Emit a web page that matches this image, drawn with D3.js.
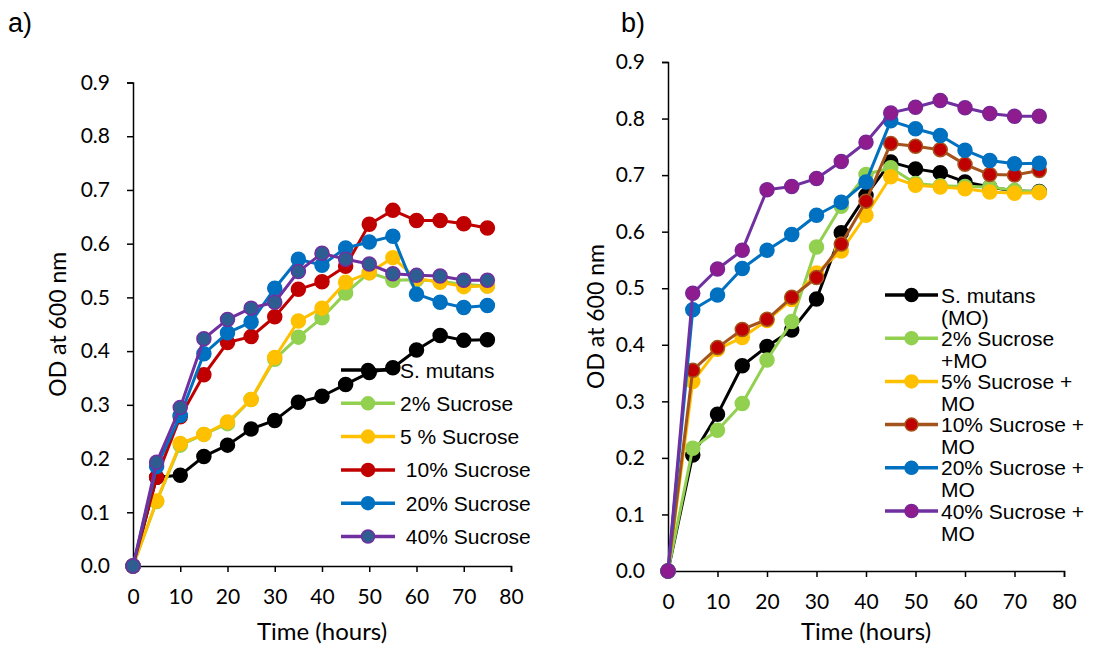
<!DOCTYPE html>
<html>
<head>
<meta charset="utf-8">
<script src="https://cdn.jsdelivr.net/npm/d3@7/dist/d3.min.js"></script>
<style>
  html, body { margin: 0; padding: 0; background: #ffffff; }
  svg { display: block; }
</style>
</head>
<body>
<svg id="chart" width="1097" height="646"></svg>
<script>
// ---------- DATA ----------
const timeHours = [0, 5, 10, 15, 20, 25, 30, 35, 40, 45, 50, 55, 60, 65, 70, 75];
const xTicks = [0, 10, 20, 30, 40, 50, 60, 70, 80];
const yTicks = [0, 0.1, 0.2, 0.3, 0.4, 0.5, 0.6, 0.7, 0.8, 0.9];

// Panel a
const aLabels = ["S. mutans", "2% Sucrose", "5 % Sucrose", " 10% Sucrose", " 20% Sucrose", " 40% Sucrose"];
const aMutans = [0, 0.165, 0.169, 0.204, 0.225, 0.255, 0.271, 0.305, 0.316, 0.338, 0.360, 0.369, 0.402, 0.429, 0.420, 0.421];
const aSuc2   = [0, 0.120, 0.225, 0.245, 0.265, 0.310, 0.385, 0.426, 0.462, 0.508, 0.546, 0.532, 0.533, 0.530, 0.524, 0.521];
const aSuc5   = [0, 0.121, 0.228, 0.245, 0.268, 0.310, 0.388, 0.456, 0.480, 0.528, 0.546, 0.574, 0.535, 0.528, 0.520, 0.521];
const aSuc10  = [0, 0.165, 0.278, 0.356, 0.416, 0.427, 0.464, 0.515, 0.529, 0.558, 0.636, 0.662, 0.643, 0.643, 0.637, 0.629];
const aSuc20  = [0, 0.185, 0.280, 0.395, 0.434, 0.454, 0.517, 0.571, 0.560, 0.592, 0.603, 0.614, 0.506, 0.491, 0.481, 0.485];
const aSuc40  = [0, 0.193, 0.295, 0.423, 0.459, 0.480, 0.491, 0.548, 0.582, 0.571, 0.562, 0.544, 0.541, 0.540, 0.532, 0.532];

// Panel b
const bLabels = [["S. mutans", "(MO)"], ["2% Sucrose", "+MO"], ["5% Sucrose +", "MO"], ["10% Sucrose +", "MO"], ["20% Sucrose +", "MO"], ["40% Sucrose +", "MO"]];
const bMutans = [0, 0.205, 0.277, 0.363, 0.397, 0.426, 0.481, 0.598, 0.664, 0.723, 0.711, 0.704, 0.688, 0.679, 0.672, 0.671];
const bSuc2   = [0, 0.217, 0.249, 0.296, 0.373, 0.441, 0.573, 0.645, 0.701, 0.713, 0.685, 0.681, 0.680, 0.679, 0.673, 0.670];
const bSuc5   = [0, 0.335, 0.392, 0.413, 0.443, 0.480, 0.527, 0.566, 0.629, 0.697, 0.682, 0.679, 0.676, 0.670, 0.668, 0.669];
const bSuc10  = [0, 0.355, 0.395, 0.427, 0.445, 0.484, 0.519, 0.578, 0.654, 0.756, 0.751, 0.745, 0.719, 0.701, 0.700, 0.708];
const bSuc20  = [0, 0.462, 0.488, 0.535, 0.567, 0.595, 0.629, 0.652, 0.688, 0.796, 0.782, 0.770, 0.744, 0.726, 0.720, 0.721];
const bSuc40  = [0, 0.491, 0.534, 0.567, 0.674, 0.680, 0.694, 0.724, 0.758, 0.810, 0.820, 0.832, 0.819, 0.809, 0.804, 0.804];

// ---------- STYLE ----------
const aStyles = [
  { line: "#000000", fill: "#000000", stroke: "#000000" },
  { line: "#92D050", fill: "#92D050", stroke: "#92D050" },
  { line: "#FFC000", fill: "#FFC000", stroke: "#FFC000" },
  { line: "#C00000", fill: "#C00000", stroke: "#C00000" },
  { line: "#0070C0", fill: "#0070C0", stroke: "#0070C0" },
  { line: "#7030A0", fill: "#2E5E91", stroke: "#7030A0" }
];
const bStyles = [
  { line: "#000000", fill: "#000000", stroke: "#000000" },
  { line: "#92D050", fill: "#92D050", stroke: "#92D050" },
  { line: "#FFC000", fill: "#FFC000", stroke: "#FFC000" },
  { line: "#A5531C", fill: "#C00000", stroke: "#A5531C" },
  { line: "#0070C0", fill: "#0070C0", stroke: "#0070C0" },
  { line: "#7030A0", fill: "#8E1C8E", stroke: "#7A2595" }
];

const tickFont = "Lato, 'Open Sans', sans-serif";
const legendFont = "'Liberation Sans', Arial, sans-serif";

const svg = d3.select("#chart");

function drawPanel(cfg) {
  const x = d3.scaleLinear().domain([0, 80]).range([cfg.x0, cfg.x1]);
  const y = d3.scaleLinear().domain([0, 0.9]).range([cfg.y0, cfg.y1]);
  const g = svg.append("g");

  // panel letter
  g.append("text").attr("x", cfg.letterX).attr("y", 32)
    .attr("font-family", legendFont).attr("font-size", 27).attr("fill", "#000")
    .text(cfg.letter);

  // y axis
  const yAxis = g.append("g").attr("transform", `translate(${cfg.x0},0)`)
    .call(d3.axisLeft(y).tickValues(yTicks).tickFormat(d3.format(".1f")).tickSizeOuter(0).tickSize(6).tickPadding(17));
  yAxis.select(".domain").attr("stroke", "#000").attr("stroke-width", 1.5);
  yAxis.selectAll(".tick line").attr("stroke", "#000").attr("stroke-width", 1.5);
  yAxis.selectAll(".tick text").attr("font-family", tickFont).attr("font-size", 21).attr("fill", "#000");

  // x axis
  const xAxis = g.append("g").attr("transform", `translate(0,${cfg.y0})`)
    .call(d3.axisBottom(x).tickValues(xTicks).tickFormat(d3.format("d")).tickSizeOuter(0).tickSize(6).tickPadding(17));
  xAxis.select(".domain").attr("stroke", "#000").attr("stroke-width", 1.5);
  xAxis.selectAll(".tick line").attr("stroke", "#000").attr("stroke-width", 1.5);
  xAxis.selectAll(".tick text").attr("font-family", tickFont).attr("font-size", 21).attr("fill", "#000");

  // axis titles
  g.append("text")
    .attr("transform", `translate(${cfg.yTitleX},${(cfg.y0 + cfg.y1) / 2}) rotate(-90)`)
    .attr("text-anchor", "middle").attr("dominant-baseline", "central")
    .attr("font-family", tickFont).attr("font-size", 23).attr("fill", "#000")
    .text("OD at 600 nm");
  g.append("text")
    .attr("x", (cfg.x0 + cfg.x1) / 2).attr("y", cfg.xTitleY)
    .attr("text-anchor", "middle")
    .attr("font-family", tickFont).attr("font-size", 24).attr("fill", "#000")
    .text("Time (hours)");

  // legend
  const lg = g.append("g");
  cfg.labels.forEach((lab, i) => {
    const st = cfg.styles[i];
    const cy = cfg.legY + i * cfg.legStep;
    lg.append("line").attr("x1", cfg.legX0).attr("x2", cfg.legX1).attr("y1", cy).attr("y2", cy)
      .attr("stroke", st.line).attr("stroke-width", 3.5);
    lg.append("circle").attr("cx", (cfg.legX0 + cfg.legX1) / 2).attr("cy", cy).attr("r", 6.5)
      .attr("fill", st.fill).attr("stroke", st.stroke).attr("stroke-width", 1.5);
    const lines = Array.isArray(lab) ? lab : [lab];
    const t = lg.append("text").attr("x", cfg.legTextX).attr("y", cy + 7.5)
      .attr("font-family", legendFont).attr("font-size", 21).attr("fill", "#000")
      .attr("xml:space", "preserve").style("white-space", "pre");
    lines.forEach((ln, k) => {
      t.append("tspan").attr("x", cfg.legTextX).attr("dy", k === 0 ? 0 : 22).text(ln);
    });
  });

  // series
  const line = d3.line().x((d, i) => x(timeHours[i])).y(d => y(d));
  cfg.series.forEach((vals, s) => {
    const st = cfg.styles[s];
    const sg = g.append("g");
    sg.append("path").datum(vals).attr("d", line).attr("fill", "none")
      .attr("stroke", st.line).attr("stroke-width", 3).attr("stroke-linejoin", "round");
    sg.selectAll("circle").data(vals).join("circle")
      .attr("cx", (d, i) => x(timeHours[i])).attr("cy", d => y(d)).attr("r", 7)
      .attr("fill", st.fill).attr("stroke", st.stroke).attr("stroke-width", 1.5);
  });
}

drawPanel({
  letter: "a)", letterX: 8,
  x0: 133, x1: 511, y0: 566, y1: 82.5,
  yTitleX: 57, xTitleY: 640,
  labels: aLabels, styles: aStyles,
  series: [aMutans, aSuc2, aSuc5, aSuc10, aSuc20, aSuc40],
  legX0: 341, legX1: 395, legY: 370, legStep: 33.3, legTextX: 400
});

drawPanel({
  letter: "b)", letterX: 621,
  x0: 668, x1: 1064, y0: 571, y1: 62,
  yTitleX: 595, xTitleY: 640,
  labels: bLabels, styles: bStyles,
  series: [bMutans, bSuc2, bSuc5, bSuc10, bSuc20, bSuc40],
  legX0: 885, legX1: 938, legY: 295, legStep: 43.2, legTextX: 941
});
</script>
</body>
</html>
